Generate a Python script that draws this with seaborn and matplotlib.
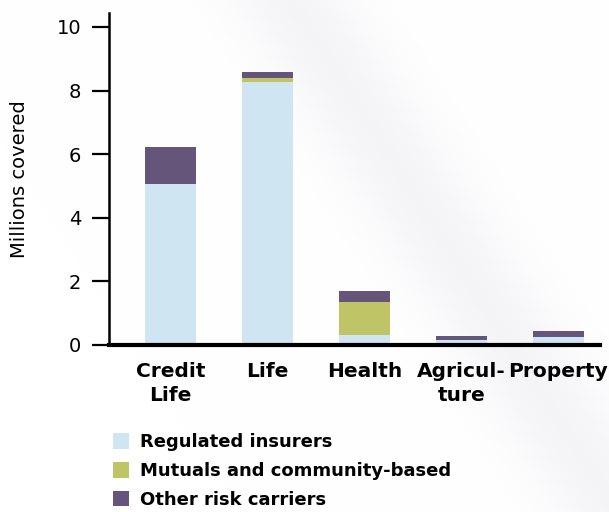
import matplotlib
matplotlib.use("Agg")
import matplotlib.pyplot as plt
import seaborn as sns
import pandas as pd
import numpy as np
from matplotlib.patches import Patch

categories = ["Credit\nLife", "Life", "Health", "Agricul-\nture", "Property"]
regulated = [5.05, 8.28, 0.32, 0.15, 0.24]
mutuals = [0.0, 0.12, 1.03, 0.0, 0.0]
other = [1.18, 0.18, 0.35, 0.13, 0.20]
series_names = ["Regulated insurers", "Mutuals and community-based", "Other risk carriers"]
colors = ["#cfe5f2", "#bfc466", "#65557a"]

sns.set_theme(style="white")
plt.rcParams['font.family'] = ['DejaVu Sans']
plt.rcParams['text.color'] = 'black'
plt.rcParams['axes.labelcolor'] = 'black'
plt.rcParams['xtick.color'] = 'black'
plt.rcParams['ytick.color'] = 'black'

df = pd.DataFrame({"category": categories, "regulated": regulated,
                   "mutuals": mutuals, "other": other})
df["c1"] = df["regulated"]
df["c2"] = df["c1"] + df["mutuals"]
df["c3"] = df["c2"] + df["other"]

W, H = 609, 512
fig = plt.figure(figsize=(W/100, H/100), dpi=100)

# subtle decorative diagonal background band
bg = fig.add_axes([0, 0, 1, 1], zorder=-10)
yy, xx = np.mgrid[0:H, 0:W]
p0 = np.array([333.0, 67.0])
dvec = np.array([234.0, 366.0]); dvec /= np.linalg.norm(dvec)
nvec = np.array([-dvec[1], dvec[0]])
dist = (xx - p0[0]) * nvec[0] + (yy - p0[1]) * nvec[1]
inten = np.exp(-(dist / 55.0) ** 2)
img = np.ones((H, W, 3))
img[..., 0] -= 0.04 * inten
img[..., 1] -= 0.04 * inten
img[..., 2] -= 0.028 * inten
bg.imshow(img, aspect="auto", extent=[0, W, H, 0])
bg.axis("off")

ax = fig.add_axes([109/609, 1-345/512, (600-109)/609, (345-13)/512])
ax.patch.set_alpha(0)

for col, color in zip(["c3", "c2", "c1"], colors[::-1]):
    sns.barplot(data=df, x="category", y=col, color=color, width=0.53,
                saturation=1, ax=ax, linewidth=0, order=categories)

ax.set_xlim(-0.634, 4.43)
ax.set_ylim(0, 10.44)
ax.set_yticks([0, 2, 4, 6, 8, 10])
ax.set_xlabel("")
ax.set_ylabel("Millions covered", fontsize=14, labelpad=20)
ax.tick_params(axis="y", direction="out", length=12, width=1.6, color="black",
               labelsize=14, pad=8, left=True)
ax.tick_params(axis="x", length=0, pad=12)
for lbl in ax.get_xticklabels():
    lbl.set_fontweight("bold")
    lbl.set_fontsize(14.5)
    lbl.set_linespacing(1.38)
    lbl.set_verticalalignment("top")
sns.despine(ax=ax)
ax.spines["left"].set_linewidth(1.8)
ax.spines["bottom"].set_linewidth(3)
ax.spines["left"].set_color("black")
ax.spines["bottom"].set_color("black")

handles = [Patch(facecolor=c, edgecolor="none") for c in colors]
leg = fig.legend(handles, series_names, loc="upper left",
                 bbox_to_anchor=(106/609, 1-426/512), frameon=False,
                 prop={"weight": "bold", "size": 13}, handlelength=0.85,
                 handleheight=0.95, handletextpad=0.65, labelspacing=0.6,
                 borderaxespad=0)

fig.savefig("out.png", dpi=100)
